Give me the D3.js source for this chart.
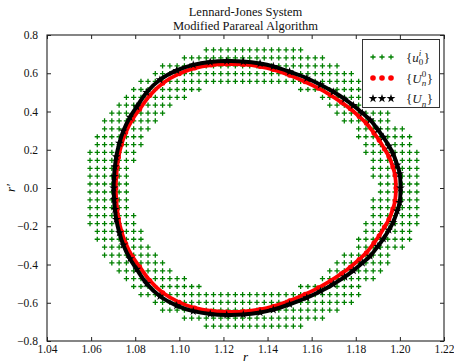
<!DOCTYPE html>
<html>
<head>
<meta charset="utf-8">
<script src="https://cdn.jsdelivr.net/npm/d3@7"></script>
<style>
  body { margin: 0; background: #fff; }
  svg { display: block; }
</style>
</head>
<body>
<script>
// ---- axis ticks ----
const xTicks = [1.04, 1.06, 1.08, 1.10, 1.12, 1.14, 1.16, 1.18, 1.20, 1.22];
const yTicks = [-0.8, -0.6, -0.4, -0.2, 0.0, 0.2, 0.4, 0.6, 0.8];

// ---- initial grid {u_0^i}: column positions (r), row positions (r'), and filled column spans per row ----
const gridR = [1.0595, 1.0628, 1.0661, 1.0694, 1.0727, 1.0760, 1.0793, 1.0826, 1.0858, 1.0891,
               1.0924, 1.0957, 1.0990, 1.1023, 1.1056, 1.1089, 1.1122, 1.1155, 1.1188, 1.1221,
               1.1254, 1.1287, 1.1319, 1.1352, 1.1385, 1.1418, 1.1451, 1.1484, 1.1517, 1.1550,
               1.1583, 1.1616, 1.1649, 1.1682, 1.1715, 1.1748, 1.1780, 1.1813, 1.1846, 1.1879,
               1.1912, 1.1945, 1.1978, 1.2011, 1.2044, 1.2077];
const gridRp = [0.722, 0.680, 0.639, 0.598, 0.557, 0.515, 0.474, 0.433, 0.392, 0.351,
                0.309, 0.268, 0.227, 0.186, 0.144, 0.103, 0.062, 0.021,
                -0.021, -0.062, -0.103, -0.144, -0.186, -0.227, -0.268, -0.309,
                -0.351, -0.392, -0.433, -0.474, -0.515, -0.557, -0.598, -0.639, -0.680, -0.722];
const gridSpans = [
  [[16, 29]], [[13, 32]], [[10, 34]], [[9, 36]], [[7, 37]],
  [[6, 15], [29, 37]], [[5, 13], [32, 39]], [[4, 11], [33, 40]], [[3, 10], [34, 41]],
  [[2, 9], [35, 41]], [[2, 8], [37, 43]], [[1, 7], [37, 44]], [[1, 7], [38, 44]],
  [[0, 6], [38, 45]], [[0, 6], [39, 45]], [[0, 5], [39, 45]], [[0, 5], [39, 45]], [[0, 5], [40, 45]],
  [[0, 5], [40, 45]], [[0, 5], [39, 45]], [[0, 5], [39, 45]], [[0, 6], [39, 45]], [[0, 6], [38, 45]],
  [[1, 7], [38, 44]], [[1, 7], [37, 44]], [[2, 8], [37, 43]], [[2, 9], [35, 41]],
  [[3, 10], [34, 41]], [[4, 11], [33, 40]], [[5, 13], [32, 39]], [[6, 15], [29, 37]],
  [[7, 37]], [[9, 36]], [[10, 34]], [[13, 32]], [[16, 29]]
];

// ---- coarse orbit {U_n^0} ----
const coarseR = [1.0712, 1.0714, 1.0718, 1.0724, 1.0738, 1.0757, 1.0788, 1.0820, 1.0866, 1.0925,
                 1.1000, 1.1070, 1.1145, 1.1215, 1.1290, 1.1366, 1.1426, 1.1500, 1.1570, 1.1630,
                 1.1685, 1.1735, 1.1775, 1.1815, 1.1848, 1.1882, 1.1906, 1.1930, 1.1950, 1.1968,
                 1.1978, 1.1982,
                 1.1978, 1.1968, 1.1950, 1.1930, 1.1906, 1.1882, 1.1848, 1.1815, 1.1775, 1.1735,
                 1.1685, 1.1630, 1.1570, 1.1500, 1.1426, 1.1366, 1.1290, 1.1215, 1.1145, 1.1070,
                 1.1000, 1.0925, 1.0866, 1.0820, 1.0788, 1.0757, 1.0738, 1.0724, 1.0718, 1.0714];
const coarseRp = [0.000, 0.060, 0.110, 0.160, 0.228, 0.290, 0.360, 0.412, 0.484, 0.548,
                  0.598, 0.627, 0.643, 0.648, 0.646, 0.635, 0.619, 0.590, 0.556, 0.522,
                  0.486, 0.448, 0.414, 0.374, 0.338, 0.288, 0.250, 0.204, 0.165, 0.110,
                  0.068, 0.000,
                  -0.068, -0.110, -0.165, -0.204, -0.250, -0.288, -0.338, -0.374, -0.414, -0.448,
                  -0.486, -0.522, -0.556, -0.590, -0.619, -0.635, -0.646, -0.648, -0.643, -0.627,
                  -0.598, -0.548, -0.484, -0.412, -0.360, -0.290, -0.228, -0.160, -0.110, -0.060];

// ---- corrected orbit {U_n} ----
const fineR = [1.0702, 1.0704, 1.0708, 1.0714, 1.0728, 1.0746, 1.0776, 1.0807, 1.0852, 1.0912,
               1.0988, 1.1063, 1.1140, 1.1215, 1.1290, 1.1366, 1.1426, 1.1500, 1.1578, 1.1640,
               1.1698, 1.1750, 1.1789, 1.1830, 1.1865, 1.1900, 1.1925, 1.1950, 1.1969, 1.1988,
               1.1999, 1.2003,
               1.1999, 1.1988, 1.1969, 1.1950, 1.1925, 1.1900, 1.1865, 1.1830, 1.1789, 1.1750,
               1.1698, 1.1640, 1.1578, 1.1500, 1.1426, 1.1366, 1.1290, 1.1215, 1.1140, 1.1063,
               1.0988, 1.0912, 1.0852, 1.0807, 1.0776, 1.0746, 1.0728, 1.0714, 1.0708, 1.0704];
const fineRp = [0.000, 0.060, 0.112, 0.164, 0.234, 0.298, 0.370, 0.425, 0.500, 0.566,
                0.615, 0.644, 0.659, 0.664, 0.662, 0.651, 0.636, 0.608, 0.574, 0.540,
                0.503, 0.465, 0.432, 0.392, 0.356, 0.305, 0.266, 0.220, 0.180, 0.120,
                0.075, 0.000,
                -0.075, -0.120, -0.180, -0.220, -0.266, -0.305, -0.356, -0.392, -0.432, -0.465,
                -0.503, -0.540, -0.574, -0.608, -0.636, -0.651, -0.662, -0.664, -0.659, -0.644,
                -0.615, -0.566, -0.500, -0.425, -0.370, -0.298, -0.234, -0.164, -0.112, -0.060];

const titleLines = ["Lennard-Jones System", "Modified Parareal Algorithm"];

// ---- layout ----
const W = 454, H = 363;
const plot = { left: 47, right: 444, top: 35, bottom: 341 };
const SERIF = "'Liberation Serif', 'DejaVu Serif', serif";
const GREEN = "#008000", RED = "#ff0000", BLACK = "#000000";

const svg = d3.select("body").append("svg")
  .attr("width", W).attr("height", H)
  .style("background", "#fff");

const x = d3.scaleLinear().domain([1.04, 1.22]).range([plot.left, plot.right]);
const y = d3.scaleLinear().domain([-0.8, 0.8]).range([plot.bottom, plot.top]);

const clipId = "plot-clip";
svg.append("clipPath").attr("id", clipId).append("rect")
  .attr("x", plot.left).attr("y", plot.top)
  .attr("width", plot.right - plot.left).attr("height", plot.bottom - plot.top);

const layer = svg.append("g").attr("clip-path", `url(#${clipId})`);

// grid of initial conditions
const gridPts = [];
gridSpans.forEach((spans, j) => {
  spans.forEach(([a, b]) => {
    for (let k = a; k <= b; k++) gridPts.push([gridR[k], gridRp[j]]);
  });
});
const plusPath = "M-2.6,0H2.6M0,-2.6V2.6";
layer.append("g").selectAll("path").data(gridPts).join("path")
  .attr("d", plusPath)
  .attr("transform", d => `translate(${x(d[0])},${y(d[1])})`)
  .attr("fill", "none").attr("stroke", GREEN).attr("stroke-width", 1.3);

// orbits
const toPts = (rs, rps) => rs.map((r, i) => [r, rps[i]]);
const coarsePts = toPts(coarseR, coarseRp);
const finePts = toPts(fineR, fineRp);
const orbitLine = d3.line().x(d => x(d[0])).y(d => y(d[1])).curve(d3.curveCatmullRomClosed);

layer.append("path").attr("d", orbitLine(coarsePts))
  .attr("fill", "none").attr("stroke", RED).attr("stroke-width", 3.8);
layer.append("g").selectAll("circle").data(coarsePts).join("circle")
  .attr("cx", d => x(d[0])).attr("cy", d => y(d[1])).attr("r", 2.5).attr("fill", RED);

const star = d3.symbol().type(d3.symbolStar).size(24);
layer.append("path").attr("d", orbitLine(finePts))
  .attr("fill", "none").attr("stroke", BLACK).attr("stroke-width", 4);
layer.append("g").selectAll("path").data(finePts).join("path")
  .attr("d", star)
  .attr("transform", d => `translate(${x(d[0])},${y(d[1])})`)
  .attr("fill", BLACK);

// axes: ticks inward on all four sides
const fmtX = d3.format(".2f"), fmtY = d3.format(".1f");
const axB = svg.append("g").attr("transform", `translate(0,${plot.bottom})`)
  .call(d3.axisBottom(x).tickValues(xTicks).tickSize(-4).tickPadding(4).tickFormat(fmtX));
const axT = svg.append("g").attr("transform", `translate(0,${plot.top})`)
  .call(d3.axisTop(x).tickValues(xTicks).tickSize(-4).tickFormat(""));
const axL = svg.append("g").attr("transform", `translate(${plot.left},0)`)
  .call(d3.axisLeft(y).tickValues(yTicks).tickSize(-4).tickPadding(9).tickFormat(fmtY));
const axR = svg.append("g").attr("transform", `translate(${plot.right},0)`)
  .call(d3.axisRight(y).tickValues(yTicks).tickSize(-4).tickFormat(""));
[axB, axT, axL, axR].forEach(g => {
  g.attr("font-family", SERIF);
  g.select(".domain").remove();
  g.selectAll(".tick line").attr("stroke", "#222").attr("stroke-width", 1);
  g.selectAll("text").attr("font-family", SERIF).attr("font-size", 11.5).attr("fill", "#111");
});

svg.append("rect")
  .attr("x", plot.left).attr("y", plot.top)
  .attr("width", plot.right - plot.left).attr("height", plot.bottom - plot.top)
  .attr("fill", "none").attr("stroke", "#222").attr("stroke-width", 1.1);

// axis titles
svg.append("text").attr("x", (plot.left + plot.right) / 2).attr("y", 361)
  .attr("text-anchor", "middle").attr("font-family", SERIF).attr("font-style", "italic")
  .attr("font-size", 13).text("r");
svg.append("text")
  .attr("transform", `translate(15,${(plot.top + plot.bottom) / 2}) rotate(-90)`)
  .attr("text-anchor", "middle").attr("font-family", SERIF).attr("font-style", "italic")
  .attr("font-size", 13).text("r\u2032");

// title
svg.append("g").selectAll("text").data(titleLines).join("text")
  .attr("x", (plot.left + plot.right) / 2)
  .attr("y", (d, i) => 15.5 + i * 14)
  .attr("text-anchor", "middle").attr("font-family", SERIF).attr("font-size", 12.5)
  .attr("fill", "#111").text(d => d);

// legend
const lg = svg.append("g");
lg.append("rect").attr("x", 362.5).attr("y", 39.5).attr("width", 77).attr("height", 68)
  .attr("fill", "#fff").attr("stroke", "#333").attr("stroke-width", 1);
const legendRows = [
  { y: 57, kind: "plus", base: "u", sub: "0", sup: "i" },
  { y: 78, kind: "dot", base: "U", sub: "n", sup: "0" },
  { y: 98.5, kind: "star", base: "U", sub: "n", sup: null }
];
const markX = [373, 382, 391];
legendRows.forEach(row => {
  markX.forEach(mx => {
    if (row.kind === "plus") {
      lg.append("path").attr("d", plusPath).attr("transform", `translate(${mx},${row.y})`)
        .attr("fill", "none").attr("stroke", GREEN).attr("stroke-width", 1.3);
    } else if (row.kind === "dot") {
      lg.append("circle").attr("cx", mx).attr("cy", row.y).attr("r", 2.8).attr("fill", RED);
    } else {
      lg.append("path").attr("d", star).attr("transform", `translate(${mx},${row.y})`)
        .attr("fill", BLACK);
    }
  });
  // {base_sub^sup}
  const t = lg.append("text").attr("x", 406).attr("y", row.y + 4.5)
    .attr("font-family", SERIF).attr("font-size", 13).attr("fill", "#222");
  t.append("tspan").text("{");
  t.append("tspan").attr("font-style", "italic").text(row.base);
  let supW = 0;
  if (row.sup) {
    const s = t.append("tspan").attr("font-size", 9).attr("dy", -5.5).attr("font-style", row.sup === "i" ? "italic" : "normal").text(row.sup);
    supW = s.node().getComputedTextLength();
  }
  const sb = t.append("tspan").attr("font-size", 9)
    .attr("dx", row.sup ? -supW : 0).attr("dy", row.sup ? 9 : 3.5)
    .attr("font-style", row.sub === "n" ? "italic" : "normal").text(row.sub);
  const subW = sb.node().getComputedTextLength();
  t.append("tspan").attr("dy", -3.5).attr("dx", Math.max(0, supW - subW) + 0.5).text("}");
});
</script>
</body>
</html>
